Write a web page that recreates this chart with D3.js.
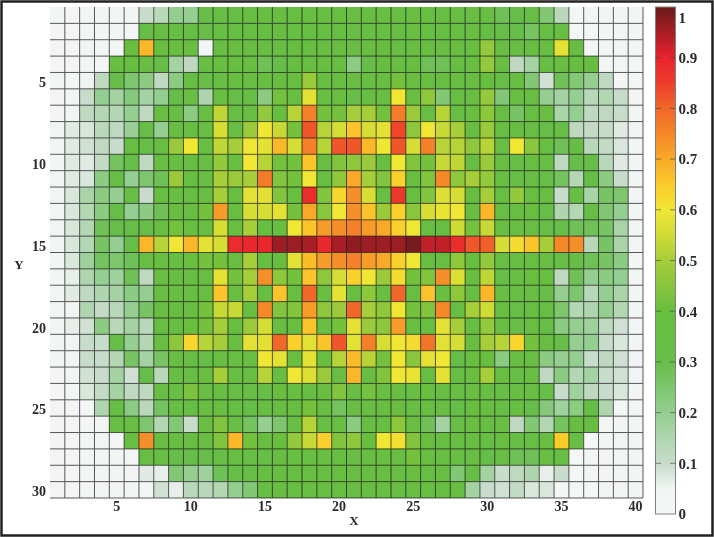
<!DOCTYPE html>
<html>
<head>
<meta charset="utf-8">
<script src="https://d3js.org/d3.v7.min.js"></script>
<style>
  html, body { margin: 0; padding: 0; background: #fff; }
  svg { display: block; filter: blur(0.35px); }
  text { font-family: "Liberation Serif", serif; font-weight: bold; fill: #2b2b2b; }
</style>
</head>
<body>
<svg id="chart" width="714" height="537"></svg>
<script>
// one list per row of the map, Y = 1 at the top, X = 1 to 40
var row01 = [.04,.03,.03,.03,.03,.03,.1,.13,.2,.2,.3,.32,.35,.36,.36,.36,.36,.36,.36,.36,.36,.36,.36,.36,.36,.36,.36,.36,.36,.36,.28,.3,.32,.24,.13,.02,.03,.05,.03,.03];
var row02 = [.03,.03,.03,.03,.03,.02,.34,.36,.36,.36,.32,.34,.36,.36,.36,.36,.36,.36,.36,.36,.36,.36,.36,.36,.36,.36,.36,.36,.36,.34,.3,.3,.26,.36,.36,.01,.02,.03,.03,.03];
var row03 = [.03,.03,.03,.03,.02,.38,.68,.38,.38,.38,.01,.36,.36,.36,.36,.36,.36,.36,.36,.36,.36,.36,.36,.36,.36,.36,.36,.36,.36,.47,.36,.36,.36,.36,.58,.37,.02,.03,.03,.03];
var row04 = [.03,.03,.03,.02,.36,.36,.36,.33,.17,.12,.36,.37,.38,.36,.28,.31,.36,.36,.36,.36,.22,.3,.36,.36,.36,.28,.28,.36,.36,.47,.36,.12,.17,.34,.36,.36,.36,.01,.03,.03];
var row05 = [.05,.04,.05,.12,.3,.25,.22,.12,.22,.36,.3,.35,.36,.36,.38,.38,.38,.48,.36,.36,.38,.38,.36,.42,.38,.38,.38,.36,.36,.38,.3,.36,.24,.09,.28,.24,.2,.12,.03,.03];
var row06 = [.03,.04,.1,.2,.17,.23,.17,.2,.3,.36,.15,.38,.3,.35,.22,.42,.36,.58,.36,.38,.3,.38,.36,.6,.38,.46,.24,.36,.36,.47,.24,.36,.36,.2,.17,.2,.13,.14,.1,.03];
var row07 = [.03,.05,.12,.14,.14,.2,.12,.36,.36,.22,.36,.53,.36,.36,.47,.38,.52,.76,.42,.42,.5,.5,.42,.77,.48,.38,.52,.36,.38,.46,.36,.26,.36,.36,.16,.2,.12,.12,.1,.04];
var row08 = [.04,.07,.08,.13,.12,.19,.33,.2,.36,.36,.36,.56,.36,.48,.6,.54,.42,.82,.52,.56,.66,.56,.58,.84,.46,.6,.54,.5,.36,.48,.36,.38,.36,.3,.32,.12,.11,.1,.07,.04];
var row09 = [.04,.07,.09,.12,.1,.36,.3,.36,.48,.6,.36,.53,.5,.6,.58,.68,.56,.76,.52,.82,.82,.68,.6,.82,.56,.76,.52,.52,.46,.52,.36,.6,.45,.36,.28,.33,.13,.11,.08,.04];
var row10 = [.04,.07,.07,.11,.27,.33,.12,.36,.38,.38,.36,.47,.38,.6,.52,.42,.42,.66,.38,.44,.46,.48,.38,.6,.44,.42,.54,.53,.36,.48,.36,.32,.36,.36,.12,.3,.3,.13,.07,.04];
var row11 = [.04,.07,.08,.22,.3,.2,.25,.28,.48,.38,.36,.5,.48,.5,.77,.44,.42,.6,.38,.46,.7,.5,.44,.64,.38,.44,.75,.46,.5,.47,.36,.3,.36,.3,.27,.14,.3,.22,.1,.04];
var row12 = [.04,.08,.16,.22,.2,.32,.1,.38,.38,.38,.36,.5,.38,.58,.58,.44,.38,.88,.44,.63,.74,.56,.38,.86,.38,.44,.57,.56,.38,.5,.36,.47,.36,.36,.1,.36,.16,.26,.25,.04];
var row13 = [.04,.08,.14,.22,.3,.2,.22,.28,.38,.38,.42,.72,.38,.56,.56,.58,.42,.7,.45,.6,.74,.66,.48,.64,.45,.56,.59,.6,.36,.68,.36,.36,.38,.3,.15,.14,.3,.24,.2,.04];
var row14 = [.04,.08,.14,.28,.3,.3,.3,.38,.42,.38,.38,.56,.38,.5,.38,.38,.6,.66,.72,.74,.76,.72,.7,.64,.6,.38,.38,.55,.42,.54,.38,.38,.36,.3,.3,.28,.28,.26,.16,.04];
var row15 = [.04,.08,.14,.26,.2,.3,.68,.52,.6,.68,.58,.56,.88,.89,.89,.96,.96,.95,.89,.95,.97,.96,.96,.96,.99,.93,.93,.88,.82,.81,.56,.62,.66,.5,.75,.74,.13,.26,.16,.05];
var row16 = [.04,.08,.18,.27,.25,.28,.38,.38,.38,.4,.42,.42,.38,.5,.38,.38,.58,.67,.72,.74,.76,.72,.7,.64,.6,.38,.38,.46,.4,.47,.36,.36,.36,.36,.33,.3,.28,.26,.22,.04];
var row17 = [.04,.06,.15,.2,.18,.28,.12,.36,.38,.38,.36,.58,.42,.5,.74,.46,.42,.66,.46,.56,.64,.6,.48,.62,.42,.44,.74,.57,.38,.53,.3,.36,.4,.36,.12,.28,.2,.22,.2,.04];
var row18 = [.04,.07,.12,.15,.17,.22,.2,.36,.38,.38,.38,.66,.38,.5,.38,.66,.38,.8,.38,.58,.38,.46,.38,.8,.38,.66,.38,.46,.36,.68,.36,.36,.36,.3,.2,.25,.13,.2,.16,.04];
var row19 = [.04,.03,.15,.11,.13,.2,.26,.36,.38,.38,.42,.54,.54,.38,.75,.44,.44,.72,.46,.48,.8,.5,.46,.6,.42,.44,.75,.36,.5,.55,.36,.33,.36,.34,.25,.14,.15,.2,.14,.04];
var row20 = [.04,.06,.09,.22,.13,.17,.13,.36,.38,.4,.42,.5,.38,.48,.56,.38,.38,.66,.38,.42,.58,.48,.46,.72,.38,.38,.58,.5,.36,.47,.36,.33,.36,.33,.22,.2,.18,.12,.09,.04];
var row21 = [.04,.05,.1,.1,.3,.2,.14,.36,.46,.63,.52,.5,.38,.58,.58,.8,.64,.58,.66,.82,.58,.76,.56,.6,.62,.78,.58,.56,.36,.5,.52,.63,.42,.36,.3,.2,.2,.1,.08,.04];
var row22 = [.04,.03,.1,.1,.14,.26,.17,.26,.36,.36,.33,.37,.38,.38,.6,.58,.38,.58,.38,.52,.67,.52,.42,.6,.45,.58,.6,.3,.38,.4,.22,.36,.36,.22,.2,.2,.1,.12,.09,.05];
var row23 = [.03,.04,.09,.1,.17,.09,.3,.13,.36,.34,.36,.5,.36,.36,.52,.38,.6,.57,.48,.36,.68,.36,.44,.6,.59,.36,.58,.36,.38,.5,.36,.33,.36,.12,.22,.14,.17,.1,.09,.05];
var row24 = [.03,.03,.08,.11,.17,.12,.12,.36,.37,.43,.36,.35,.34,.34,.32,.4,.38,.36,.38,.44,.36,.42,.36,.38,.36,.4,.36,.36,.36,.36,.32,.38,.36,.31,.1,.18,.12,.1,.08,.04];
var row25 = [.03,.03,.02,.15,.33,.22,.13,.27,.35,.35,.36,.37,.33,.31,.36,.36,.36,.42,.36,.27,.36,.36,.36,.38,.36,.36,.36,.33,.36,.36,.33,.36,.3,.23,.18,.22,.3,.15,.02,.04];
var row26 = [.03,.03,.03,.03,.36,.36,.25,.14,.24,.1,.36,.44,.36,.27,.2,.25,.36,.52,.36,.36,.22,.36,.36,.46,.36,.28,.17,.33,.36,.36,.36,.12,.24,.14,.27,.36,.36,.01,.03,.04];
var row27 = [.03,.03,.03,.03,.01,.36,.74,.36,.36,.36,.36,.44,.68,.42,.38,.4,.47,.54,.64,.44,.46,.38,.6,.61,.44,.38,.38,.36,.36,.36,.36,.33,.34,.36,.65,.36,.02,.03,.03,.04];
var row28 = [.03,.03,.03,.03,.03,.01,.36,.36,.3,.3,.3,.33,.36,.34,.34,.36,.38,.36,.38,.36,.36,.36,.4,.36,.42,.36,.36,.36,.36,.31,.36,.28,.28,.36,.36,.01,.03,.03,.03,.04];
var row29 = [.03,.03,.03,.03,.03,.03,.07,.06,.24,.2,.18,.28,.32,.32,.36,.36,.36,.36,.36,.36,.36,.36,.36,.36,.36,.34,.36,.24,.33,.17,.1,.12,.15,.06,.1,.02,.03,.03,.03,.04];
var row30 = [.03,.03,.03,.03,.03,.03,.02,.09,.06,.13,.13,.14,.2,.24,.36,.36,.36,.36,.36,.36,.36,.36,.36,.36,.36,.36,.36,.36,.17,.1,.09,.11,.08,.08,.01,.01,.02,.03,.03,.03];

var xTicks = [5, 10, 15, 20, 25, 30, 35, 40];
var yTicks = [5, 10, 15, 20, 25, 30];
var barTicks = [0, .1, .2, .3, .4, .5, .6, .7, .8, .9, 1];
var colorStops = [0, .05, .1, .2, .3, .4, .5, .55, .6, .65, .7, .8, .85, .9, .95, 1];
var colorValues = ['#f4f7f6', '#f0f4f2', '#c8dccb', '#94ce90', '#66be49', '#68be3f', '#a6cd3a', '#cfdc35', '#f0e634', '#fbcb2a', '#f8a928', '#f1672a', '#ed3c2b', '#e8232d', '#a81e26', '#6b1a1c'];

var rows = [row01, row02, row03, row04, row05, row06, row07, row08, row09, row10,
            row11, row12, row13, row14, row15, row16, row17, row18, row19, row20,
            row21, row22, row23, row24, row25, row26, row27, row28, row29, row30];

var svg = d3.select('#chart');

var color = d3.scaleLinear().domain(colorStops).range(colorValues);

var x = d3.scaleBand().domain(d3.range(1, 41)).range([50, 643]);
var y = d3.scaleBand().domain(d3.range(1, 31)).range([7, 498]);
var barY = d3.scaleLinear().domain([0, 1]).range([514, 7]);

// outer frame of the figure
svg.append('rect')
    .attr('x', 1.5).attr('y', 1.5)
    .attr('width', 711).attr('height', 534)
    .attr('fill', '#fff')
    .attr('stroke', '#222')
    .attr('stroke-width', 2.5);

var cells = [];
rows.forEach(function (row, j) {
    row.forEach(function (v, i) {
        cells.push({ col: i + 1, row: j + 1, value: v });
    });
});

svg.append('g').selectAll('rect')
    .data(cells)
    .enter()
    .append('rect')
    .attr('x', function (d) { return x(d.col); })
    .attr('y', function (d) { return y(d.row); })
    .attr('width', x.bandwidth())
    .attr('height', y.bandwidth())
    .attr('fill', function (d) { return color(d.value); });

// grid lines, no line on the left and top of the map
// multiply keeps them dark green over green and grey over the white cells
var grid = svg.append('g')
    .attr('stroke', '#5a5a5a')
    .attr('stroke-width', 1)
    .style('mix-blend-mode', 'multiply');
d3.range(1, 41).forEach(function (c) {
    grid.append('line')
        .attr('x1', x(c) + x.bandwidth()).attr('x2', x(c) + x.bandwidth())
        .attr('y1', y.range()[0]).attr('y2', y.range()[1]);
});
d3.range(1, 31).forEach(function (r) {
    grid.append('line')
        .attr('x1', x.range()[0]).attr('x2', x.range()[1])
        .attr('y1', y(r) + y.bandwidth()).attr('y2', y(r) + y.bandwidth());
});

// axes
var xAxis = svg.append('g')
    .attr('transform', 'translate(0,498)')
    .call(d3.axisBottom(x).tickValues(xTicks).tickSize(0).tickPadding(3));
var yAxis = svg.append('g')
    .attr('transform', 'translate(50,2)')
    .call(d3.axisLeft(y).tickValues(yTicks).tickSize(0).tickPadding(4));
[xAxis, yAxis].forEach(function (a) {
    a.select('.domain').remove();
    a.selectAll('text').style('font-family', '"Liberation Serif", serif').style('font-size', '14px').style('font-weight', 'bold').style('fill', '#2b2b2b');
});

svg.append('text').attr('x', 354).attr('y', 525).attr('text-anchor', 'middle').attr('font-size', 13).text('X');
svg.append('text').attr('x', 19).attr('y', 269).attr('text-anchor', 'middle').attr('font-size', 13).text('Y');

// colour bar
var gradient = svg.append('defs').append('linearGradient')
    .attr('id', 'bar-gradient')
    .attr('x1', 0).attr('x2', 0).attr('y1', 1).attr('y2', 0);
colorStops.forEach(function (s, i) {
    gradient.append('stop').attr('offset', s).attr('stop-color', colorValues[i]);
});

svg.append('rect')
    .attr('x', 655.5).attr('y', barY(1))
    .attr('width', 20).attr('height', barY(0) - barY(1))
    .attr('fill', 'url(#bar-gradient)')
    .attr('stroke', '#7d837d')
    .attr('stroke-width', 1);

var barAxis = svg.append('g')
    .attr('transform', 'translate(675.5,0)')
    .call(d3.axisRight(barY).tickValues(barTicks).tickSize(0).tickPadding(3).tickFormat(d3.format('~g')));
barAxis.select('.domain').remove();
barAxis.selectAll('text')
    .style('font-family', '"Liberation Serif", serif')
    .style('font-size', '15px')
    .style('font-weight', 'bold')
    .style('fill', '#2b2b2b')
    .attr('dy', function (d) { return d === 1 ? '1.0em' : '0.32em'; });

// small inner ticks on both sides of the bar
var inner = barTicks.slice(1, -1);
svg.append('g').selectAll('line').data(inner.concat(inner)).enter().append('line')
    .attr('x1', function (d, i) { return i < inner.length ? 655.5 : 670; })
    .attr('x2', function (d, i) { return i < inner.length ? 661 : 675.5; })
    .attr('y1', function (d) { return barY(d); })
    .attr('y2', function (d) { return barY(d); })
    .attr('stroke', '#444')
    .attr('stroke-opacity', .6);
</script>
</body>
</html>
